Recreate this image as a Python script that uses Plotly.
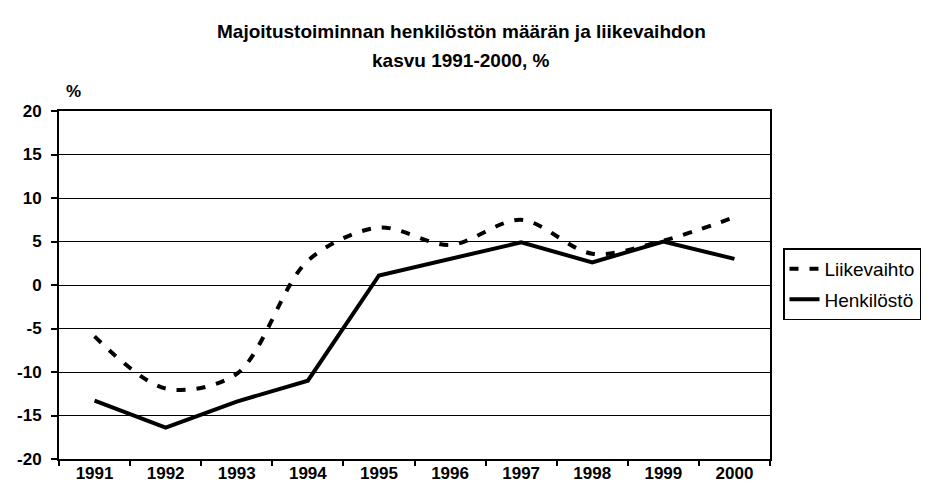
import plotly.graph_objects as go

years = ["1991", "1992", "1993", "1994", "1995", "1996", "1997", "1998", "1999", "2000"]
liikevaihto = [-5.9, -11.9, -10.2, 2.8, 6.6, 4.6, 7.5, 3.6, 5.1, 7.8]
henkilosto = [-13.3, -16.4, -13.4, -11.0, 1.1, 3.0, 4.9, 2.6, 5.0, 3.0]
y_ticks = [20, 15, 10, 5, 0, -5, -10, -15, -20]
y_ticktext = ["20", "15", "10", "5", "0", "-5", "-10", "-15", "-20"]

FONT = "Liberation Sans, Arial, sans-serif"

L, R, T, B = 51, 762, 102.5, 451
W, H = 947, 485
PW, PH = R - L, B - T


def px_x(x):
    return (x - L) / PW


def px_y(y):
    return (B - y) / PH


fig = go.Figure()
fig.add_trace(go.Scatter(
    x=years, y=liikevaihto, name="Liikevaihto", mode="lines", legendgroup="a",
    line=dict(color="black", width=4, dash="9px,11px", shape="spline", smoothing=0.9),
))
fig.add_trace(go.Scatter(
    x=years, y=henkilosto, name="Henkilöstö", mode="lines", legendgroup="b",
    line=dict(color="black", width=4),
))

fig.update_layout(
    width=W, height=H,
    margin=dict(l=L, r=W - R, t=T, b=H - B, autoexpand=False),
    paper_bgcolor="white", plot_bgcolor="white",
    font=dict(family=FONT, color="black", size=17),
    showlegend=True,
    legend=dict(
        x=px_x(775), y=px_y(240), xanchor="left", yanchor="top",
        bordercolor="black", borderwidth=1.5, bgcolor="white",
        font=dict(family=FONT, size=19, color="black"),
        tracegroupgap=3, itemwidth=30,
    ),
    xaxis=dict(
        type="category", showgrid=False, showline=True, linecolor="black", linewidth=2,
        mirror=True, ticks="outside", tickson="boundaries", ticklen=5, tickcolor="black",
        tickwidth=1.5, automargin=False,
        tickfont=dict(family=FONT, size=17, weight="bold"),
        range=[-0.5, 9.5], ticklabelstandoff=-2,
    ),
    yaxis=dict(
        range=[-20, 20], tickvals=y_ticks, ticktext=y_ticktext,
        showgrid=True, gridcolor="black", gridwidth=1,
        showline=True, linecolor="black", linewidth=2, mirror=True,
        ticks="outside", ticklen=6, tickcolor="black", tickwidth=1.5, zeroline=False,
        automargin=False, ticklabelstandoff=6,
        tickfont=dict(family=FONT, size=17, weight="bold"),
    ),
    annotations=[
        dict(text="<b>Majoitustoiminnan henkilöstön määrän ja liikevaihdon</b>",
             xref="paper", yref="paper", x=px_x(453), y=px_y(23),
             xanchor="center", yanchor="middle", showarrow=False,
             font=dict(family=FONT, size=19)),
        dict(text="<b>kasvu 1991-2000, %</b>",
             xref="paper", yref="paper", x=px_x(453), y=px_y(52),
             xanchor="center", yanchor="middle", showarrow=False,
             font=dict(family=FONT, size=19)),
        dict(text="<b>%</b>",
             xref="paper", yref="paper", x=px_x(65), y=px_y(83),
             xanchor="center", yanchor="middle", showarrow=False,
             font=dict(family=FONT, size=17)),
    ],
)

fig.write_html("out.html")
